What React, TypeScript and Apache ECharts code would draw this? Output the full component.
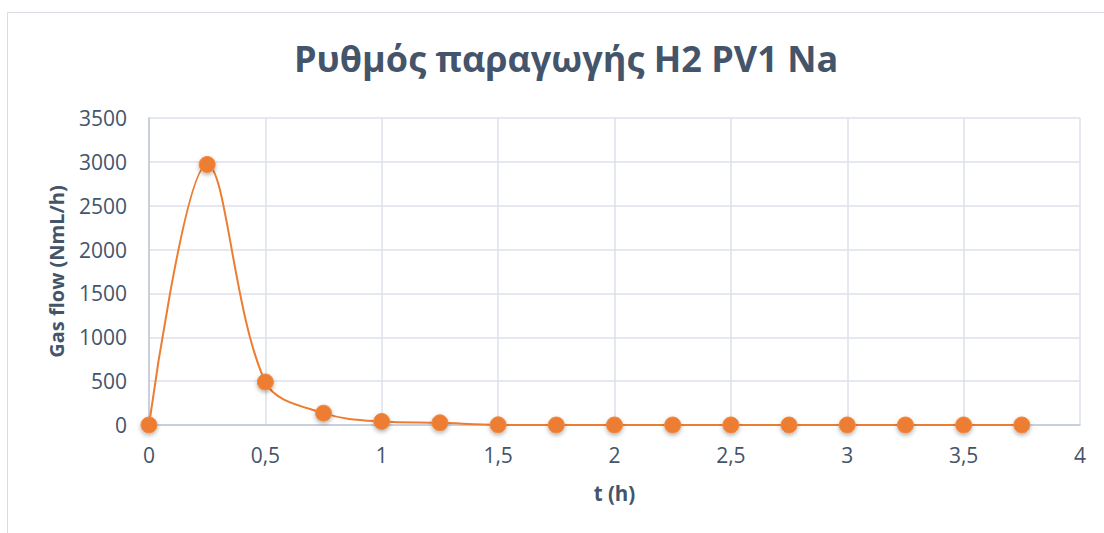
import React, { useEffect, useRef } from "react";
import * as echarts from "echarts";

const titleText = "Ρυθμός παραγωγής H2 PV1 Na";
const xAxisName = "t (h)";
const yAxisName = "Gas flow (NmL/h)";
const timeValues = [0, 0.25, 0.5, 0.75, 1, 1.25, 1.5, 1.75, 2, 2.25, 2.5, 2.75, 3, 3.25, 3.5, 3.75];
const flowValues = [0, 2970, 490, 135, 40, 25, 2, 0, 0, 0, 0, 0, 0, 0, 0, 0];

const textColor = "#44546A";
const font = "'Open Sans', 'Noto Sans', sans-serif";

export default function App() {
  const ref = useRef<HTMLDivElement>(null);
  useEffect(() => {
    if (!ref.current) return;
    const chart = echarts.init(ref.current, null, { renderer: "svg" });
    chart.setOption({
      animation: false,
      backgroundColor: "#ffffff",
      title: {
        text: titleText,
        left: 289,
        top: 35,
        textStyle: { fontFamily: font, fontSize: 36, fontWeight: "bold", color: textColor },
      },
      graphic: [
        {
          type: "rect",
          shape: { x: 7.5, y: 12.5, width: 1200, height: 600 },
          style: { fill: "none", stroke: "#D9DDE3", lineWidth: 1 },
          silent: true,
        },
      ],
      grid: { left: 149, right: 24, top: 118, bottom: 108 },
      xAxis: {
        type: "value",
        min: 0,
        max: 4,
        interval: 0.5,
        name: xAxisName,
        nameLocation: "middle",
        nameGap: 57,
        nameTextStyle: { fontFamily: font, fontSize: 20.5, fontWeight: "bold", color: textColor },
        axisLine: { show: true, lineStyle: { color: "#BFC7D5", width: 1.5 } },
        axisTick: { show: false },
        splitLine: { show: true, lineStyle: { color: "#DCE1EA", width: 1.5 } },
        axisLabel: {
          fontFamily: font,
          fontSize: 21,
          color: textColor,
          margin: 19,
          formatter: (v: number) => String(v).replace(".", ","),
        },
      },
      yAxis: {
        type: "value",
        min: 0,
        max: 3500,
        interval: 500,
        name: yAxisName,
        nameLocation: "middle",
        nameGap: 83,
        nameRotate: 90,
        nameTextStyle: { fontFamily: font, fontSize: 20, fontWeight: "bold", color: textColor },
        axisLine: { show: true, lineStyle: { color: "#BFC7D5", width: 1.5 } },
        axisTick: { show: false },
        splitLine: { show: true, lineStyle: { color: "#DCE1EA", width: 1.5 } },
        axisLabel: {
          fontFamily: font,
          fontSize: 21,
          color: textColor,
          margin: 22,
          formatter: (v: number) => String(v),
        },
      },
      series: [
        {
          type: "line",
          data: timeValues.map((t, i) => [t, flowValues[i]]),
          smooth: 0.35,
          symbol: "circle",
          symbolSize: 16,
          lineStyle: { color: "#ED7D31", width: 2 },
          itemStyle: {
            color: "#ED7D31",
            borderColor: "#F08A40",
            borderWidth: 1,
            shadowColor: "rgba(0,0,0,0.3)",
            shadowBlur: 4,
            shadowOffsetY: 2,
          },
        },
      ],
    });
    return () => chart.dispose();
  }, []);
  return (
    <div
      ref={ref}
      style={{ position: "absolute", left: 0, top: 0, width: 1104, height: 533 }}
    />
  );
}
